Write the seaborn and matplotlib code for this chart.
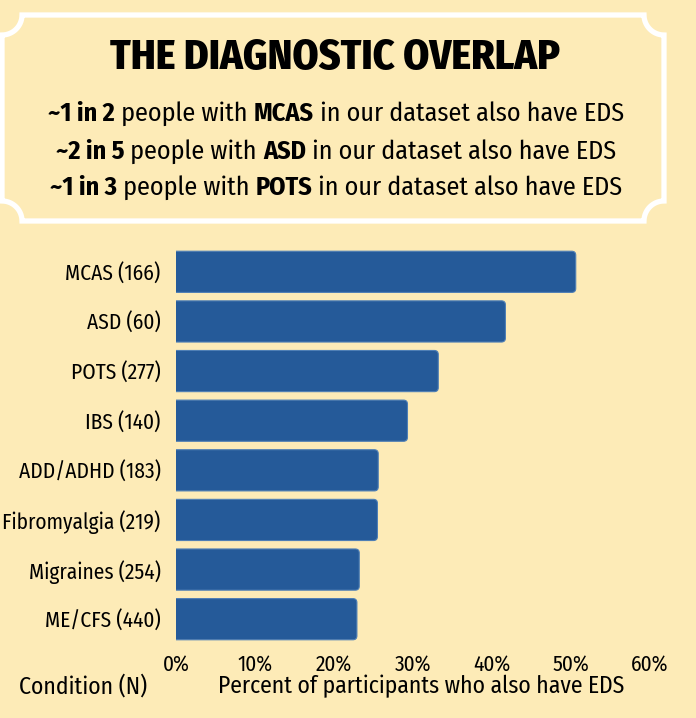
import numpy as np
import pandas as pd
import matplotlib
matplotlib.use("Agg")
import matplotlib.pyplot as plt
import seaborn as sns
from matplotlib.path import Path
from matplotlib.patches import PathPatch, FancyBboxPatch

conditions = ["MCAS (166)", "ASD (60)", "POTS (277)", "IBS (140)",
              "ADD/ADHD (183)", "Fibromyalgia (219)", "Migraines (254)", "ME/CFS (440)"]
pct_eds = [50.6, 41.7, 33.2, 29.3, 25.6, 25.5, 23.2, 22.9]
x_ticks = [0, 10, 20, 30, 40, 50, 60]

summary_lines = [
    [("~1 in 2", True), (" people with ", False), ("MCAS", True), (" in our dataset also have EDS", False)],
    [("~2 in 5", True), (" people with ", False), ("ASD", True), (" in our dataset also have EDS", False)],
    [("~1 in 3", True), (" people with ", False), ("POTS", True), (" in our dataset also have EDS", False)],
]

BG = "#fdebb7"
BAR = "#255a99"
W, H = 696, 718

sns.set_style("white")
plt.rcParams["font.family"] = ["Fira Sans Condensed", "DejaVu Sans"]
plt.rcParams["text.color"] = "black"

fig = plt.figure(figsize=(W / 100, H / 100), dpi=100, facecolor=BG)
ax = fig.add_axes([176 / W, 1 - 644 / H, 474 / W, 397 / H])
ax.set_facecolor(BG)

df = pd.DataFrame({"cond": conditions, "pct": pct_eds})
sns.barplot(data=df, y="cond", x="pct", color=BAR, saturation=1, width=0.83,
            edgecolor="#4f7fb5", linewidth=0.8, ax=ax)

ax.set_xlim(0, 60)

# round off the bar ends (left side is clipped at x=0)
rx = 4 * 60 / 474          # ~4 px in data units along x
aspect = (1 / 49.6) / (60 / 474)
for p in list(ax.patches):
    x0, y0 = p.get_x(), p.get_y()
    w, h = p.get_width(), p.get_height()
    rb = FancyBboxPatch((x0 - 2 * rx, y0), w + 2 * rx, h,
                        boxstyle=f"round,pad=0,rounding_size={rx}",
                        mutation_aspect=aspect, facecolor=BAR,
                        edgecolor="#4f7fb5", linewidth=0.8)
    p.remove()
    ax.add_patch(rb)

ax.set_xticks(x_ticks)
ax.set_xticklabels([f"{t}%" for t in x_ticks])
ax.tick_params(axis="both", length=0, labelsize=15.4, colors="black")
ax.tick_params(axis="x", pad=7)
ax.tick_params(axis="y", pad=11)
sns.despine(ax=ax, left=True, bottom=True)
ax.set_ylabel("")
ax.set_xlabel("")
fig.text(421 / W, 1 - 686 / H, "Percent of participants who also have EDS",
         fontsize=17, ha="center", va="center")
fig.text(83 / W, 1 - 686 / H, "Condition (N)", fontsize=17, ha="center", va="center")

# header frame with concave corners
L, R, T, B, r = 2, 664, 15, 221, 20
th = np.linspace(0, np.pi / 2, 20)
pts = [(L + r, T), (R - r, T)]
pts += list(zip(R - r * np.cos(th), T + r * np.sin(th)))
pts += [(R, B - r)]
pts += list(zip(R - r * np.sin(th), B - r * np.cos(th)))
pts += [(L + r, B)]
pts += list(zip(L + r * np.cos(th), B - r * np.sin(th)))
pts += [(L, T + r)]
pts += list(zip(L + r * np.sin(th), T + r * np.cos(th)))
pts = [(px / W, 1 - py / H) for px, py in pts]
frame = PathPatch(Path(pts, closed=True), transform=fig.transFigure,
                  facecolor=BG, edgecolor="white", linewidth=3.8)
fig.patches.append(frame)

fig.text(335 / W, 1 - 58 / H, "THE DIAGNOSTIC OVERLAP", fontsize=30,
         fontweight="heavy", ha="center", va="center")

renderer = fig.canvas.get_renderer()


def rich_line(segments, cx, cy, size):
    texts = []
    for s, bold in segments:
        t = fig.text(0, cy, s, fontsize=size, fontweight="bold" if bold else "normal",
                     ha="left", va="center")
        texts.append(t)
    widths = [t.get_window_extent(renderer).width for t in texts]
    x = cx * W - sum(widths) / 2
    for t, w in zip(texts, widths):
        t.set_x(x / W)
        x += w


for line, y in zip(summary_lines, [114, 152, 188]):
    rich_line(line, 336 / W, 1 - y / H, 18.8)

fig.savefig("out.png", dpi=100, facecolor=BG)
